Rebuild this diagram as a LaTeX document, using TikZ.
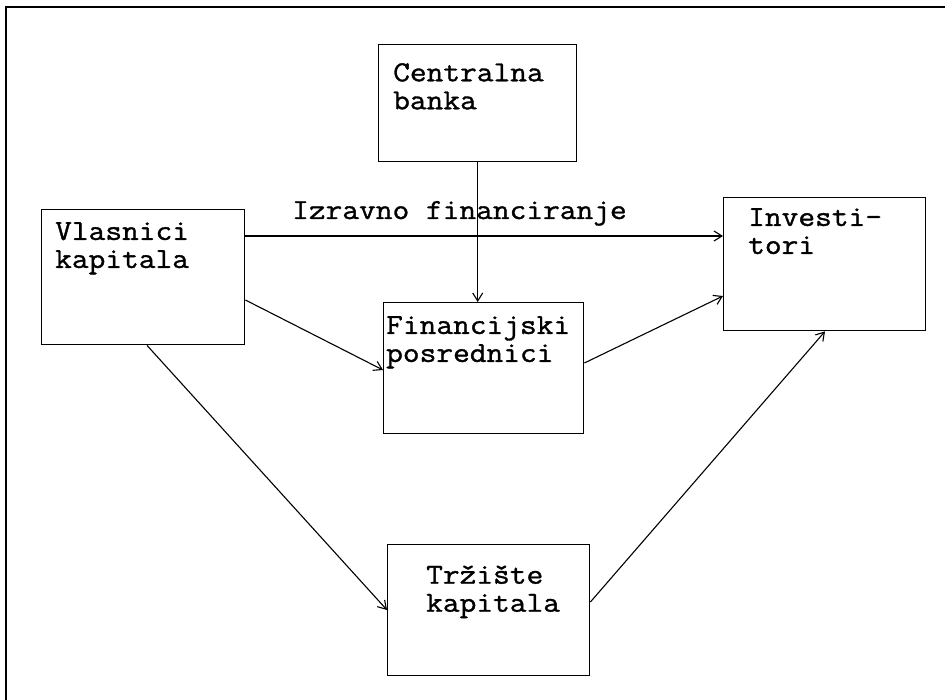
\documentclass[tikz,border=0pt]{standalone}
\usepackage{fontspec}
\newfontfamily\typew{Latin Modern Mono}[FakeStretch=1.12,FakeBold=1.2]
\usetikzlibrary{calc,arrows.meta}
\begin{document}
\begin{tikzpicture}[x=1pt,y=-1pt,
  boxs/.style={draw, line width=1.4pt, inner sep=0pt, anchor=north west, rectangle},
  txt/.style={inner sep=0pt, anchor=north west, align=left, font=\typew\fontsize{29}{28}\selectfont},
  conn/.style={line width=1.1pt, -{Straight Barb[length=8pt,width=10pt,line width=1.1pt]}},
  frame/.style={line width=1.8pt}]
\useasboundingbox (0,0) rectangle (945,700);
\coordinate (ftl) at (6,7);
\coordinate (ftr) at (945,7);
\coordinate (fbl) at (6,700);
\draw[frame] (fbl) -- (ftl) -- (ftr);
% boxes
\node[boxs, minimum width=198pt, minimum height=117pt] (cb) at (378,44) {};
\node[boxs, minimum width=203pt, minimum height=135pt] (vk) at (41,209) {};
\node[boxs, minimum width=200pt, minimum height=131pt] (fp) at (383,302) {};
\node[boxs, minimum width=202pt, minimum height=133pt] (inv) at (723,197) {};
\node[boxs, minimum width=202pt, minimum height=131pt] (tk) at (387,544) {};
% texts
\node[txt] (cbt) at (393,63) {Centralna\\banka};
\node[txt] (vkt) at (55,222) {Vlasnici\\kapitala};
\node[txt] (fpt) at (386,316) {Financijski\\posrednici};
\node[txt] (invt) at (748,208) {Investi-\\tori};
\node[txt] (tkt) at (426,565) {Tržište\\kapitala};
\node[txt, anchor=base west] (izr) at (292,219) {Izravno financiranje};
% connectors
\draw[conn] (cb.south) -- (cb.south |- fp.north);
\draw[conn] ($(vk.north east)+(0,27)$) -- ($(inv.north west)+(0,39)$);
\draw[conn] ($(vk.north east)+(0,91)$) -- ($(fp.north west)+(0,68)$);
\draw[conn] ($(fp.north east)+(0,61)$) -- ($(inv.north west)+(0,99)$);
\draw[conn] ($(vk.south west)+(106,0)$) -- ($(tk.north west)+(0,66)$);
\draw[conn] ($(tk.north east)+(0,58)$) -- ($(inv.south west)+(102,0)$);
\end{tikzpicture}
\end{document}
